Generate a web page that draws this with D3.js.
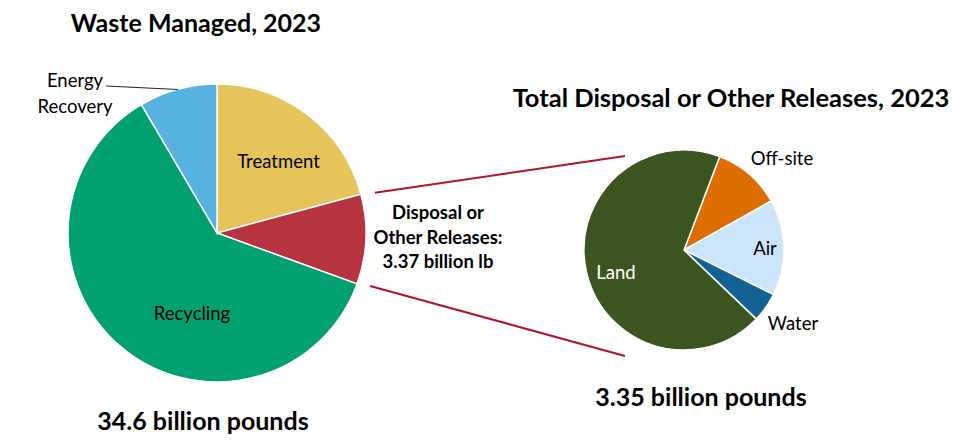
<!DOCTYPE html>
<html><head><meta charset="utf-8">
<script src="https://cdn.jsdelivr.net/npm/d3@7"></script>
<style>
html,body{margin:0;padding:0;background:#fff;}
svg{display:block;font-family:Lato,"Open Sans",sans-serif;}
</style></head>
<body><svg id="c" width="960" height="444"></svg>
<script>
// Waste managed (billion lb), clockwise from 12 o'clock
const wasteCategories = ["Treatment", "Disposal or Other Releases", "Recycling", "Energy Recovery"];
const wasteValues = [7.2, 3.37, 21.1, 2.93];
const wasteColors = ["#E6C45A", "#B73340", "#00A070", "#56B3E0"];
const wasteTotalLabel = "34.6 billion pounds";

// Disposal or other releases (billion lb)
const releaseCategories = ["Off-site", "Air", "Water", "Land"];
const releaseValues = [0.37, 0.52, 0.16, 2.30];
const releaseColors = ["#DE6D00", "#CCE5FB", "#136293", "#3B5520"];
const releaseTotalLabel = "3.35 billion pounds";

const svg = d3.select("#c");
const deg = Math.PI / 180;

// Left pie
const L = {cx: 217, cy: 233, r: 149};
const pieL = d3.pie().sort(null).value(d => d)(wasteValues);
const arcL = d3.arc().innerRadius(0).outerRadius(L.r);
const gL = svg.append("g").attr("transform", `translate(${L.cx},${L.cy})`);
gL.selectAll("path").data(pieL).join("path")
  .attr("d", arcL).attr("fill", (d, i) => wasteColors[i])
  .attr("stroke", "#fff").attr("stroke-width", 1.5);

// Right pie
const R = {cx: 684, cy: 250, r: 100};
const startR = 20.9 * deg;
const pieR = d3.pie().sort(null).value(d => d).startAngle(startR).endAngle(startR + 2 * Math.PI)(releaseValues);
const arcR = d3.arc().innerRadius(0).outerRadius(R.r);
const gR = svg.append("g").attr("transform", `translate(${R.cx},${R.cy})`);
gR.selectAll("path").data(pieR).join("path")
  .attr("d", arcR).attr("fill", (d, i) => releaseColors[i])
  .attr("stroke", "#fff").attr("stroke-width", 1.5);

// Connector lines from disposal slice to release pie
const disp = pieL[1];
function pt(c, r, a) { return [c.cx + r * Math.sin(a), c.cy - r * Math.cos(a)]; }
const p1 = pt(L, 163, disp.startAngle + 0.8 * deg);
const p2 = pt(L, 162, disp.endAngle - 0.9 * deg);
const q1 = [625, R.cy - 94];
const q2 = [625, R.cy + 106];
svg.append("line").attr("x1", p1[0]).attr("y1", p1[1]).attr("x2", q1[0]).attr("y2", q1[1])
  .attr("stroke", "#B0152A").attr("stroke-width", 2);
svg.append("line").attr("x1", p2[0]).attr("y1", p2[1]).attr("x2", q2[0]).attr("y2", q2[1])
  .attr("stroke", "#B0152A").attr("stroke-width", 2);

// Titles
svg.append("text").attr("x", 196).attr("y", 32).attr("text-anchor", "middle")
  .attr("font-size", 25).attr("font-weight", "bold").text("Waste Managed, 2023");
svg.append("text").attr("x", 731).attr("y", 107).attr("text-anchor", "middle")
  .attr("font-size", 25.5).attr("font-weight", "bold").text("Total Disposal or Other Releases, 2023");
svg.append("text").attr("x", 203).attr("y", 430).attr("text-anchor", "middle")
  .attr("font-size", 25).attr("font-weight", "bold").text(wasteTotalLabel);
svg.append("text").attr("x", 701).attr("y", 406).attr("text-anchor", "middle")
  .attr("font-size", 25).attr("font-weight", "bold").text(releaseTotalLabel);

// Left labels
const fs = 18.5;
svg.append("text").attr("x", 278.5).attr("y", 168).attr("text-anchor", "middle")
  .attr("font-size", fs).text("Treatment");
svg.append("text").attr("x", 192).attr("y", 320).attr("text-anchor", "middle")
  .attr("font-size", fs).text("Recycling");
svg.append("text").attr("x", 75).attr("y", 87).attr("text-anchor", "middle")
  .attr("font-size", fs).text("Energy");
svg.append("text").attr("x", 75).attr("y", 112.5).attr("text-anchor", "middle")
  .attr("font-size", fs).text("Recovery");
svg.append("line").attr("x1", 106).attr("y1", 86).attr("x2", 178).attr("y2", 89.5)
  .attr("stroke", "#222").attr("stroke-width", 1);
const dl = svg.append("text").attr("text-anchor", "middle").attr("font-size", fs).attr("font-weight", "bold");
["Disposal or", "Other Releases:", "3.37 billion lb"].forEach((t, i) =>
  dl.append("tspan").attr("x", 438).attr("y", 219 + i * 24.5).text(t));

// Right labels
svg.append("text").attr("x", 782).attr("y", 165).attr("text-anchor", "middle").attr("font-size", fs).text("Off-site");
svg.append("text").attr("x", 765).attr("y", 255).attr("text-anchor", "middle").attr("font-size", fs).text("Air");
svg.append("text").attr("x", 616).attr("y", 279).attr("text-anchor", "middle").attr("font-size", fs).attr("fill", "#fff").text("Land");
svg.append("text").attr("x", 793).attr("y", 330).attr("text-anchor", "middle").attr("font-size", fs).text("Water");
</script></body></html>
